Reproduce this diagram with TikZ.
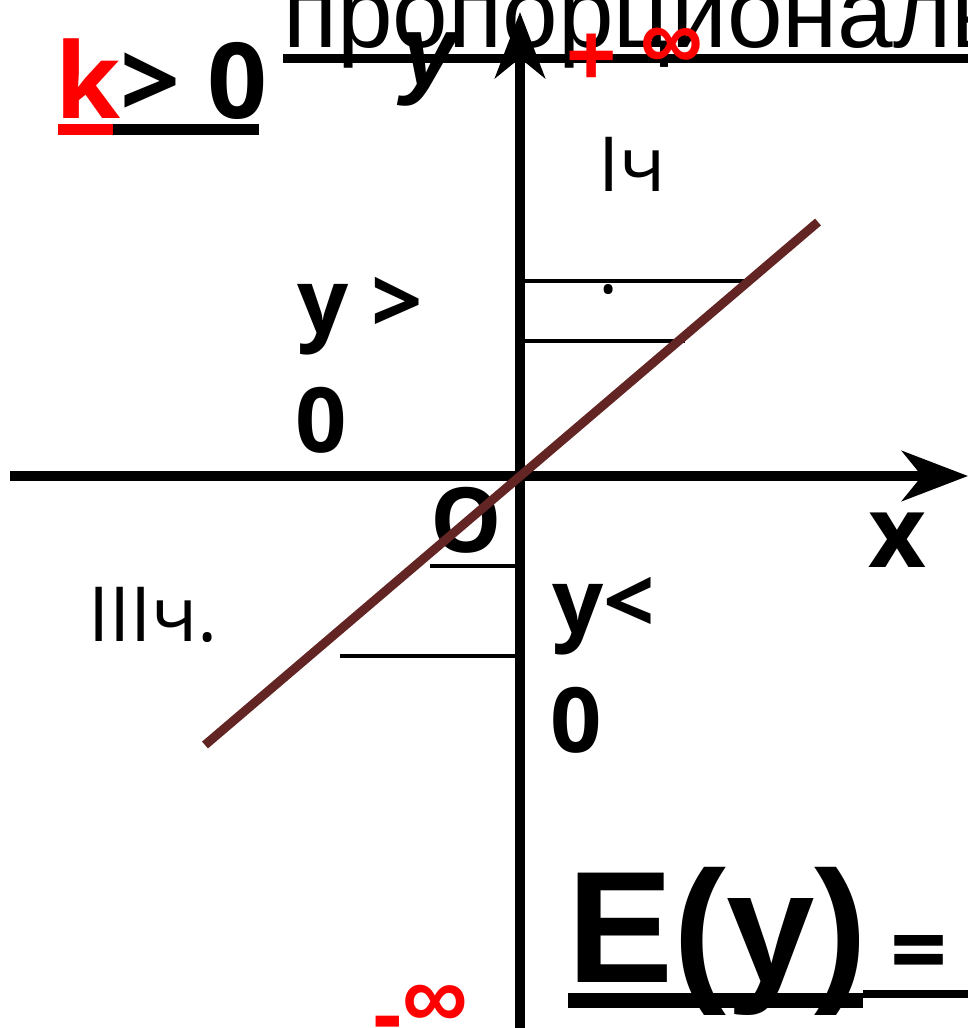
\documentclass[tikz,border=0pt]{standalone}
\usepackage{fontspec}
\setmainfont{Liberation Sans}
\newfontfamily\osans{Open Sans}
\usetikzlibrary{arrows.meta}
\definecolor{brownline}{RGB}{99,37,35}
\definecolor{redtxt}{RGB}{255,0,0}
\tikzset{
  lbl/.style={anchor=base west, inner sep=0pt, outer sep=0pt},
  boldlbl/.style={lbl, font=\osans\bfseries\fontsize{90}{90}\selectfont},
  quadlbl/.style={lbl, font=\osans\fontsize{76}{76}\selectfont},
  axisline/.style={line width=10pt, -{Stealth[length=66pt, width=50pt, inset=20pt]}},
  guide/.style={line width=4pt},
  graphline/.style={line width=9pt, brownline},
  uline/.style={fill=black}
}
\begin{document}
\begin{tikzpicture}[x=1pt,y=-1pt]
\path[use as bounding box, fill=white] (0,0) rectangle (968,1028);
\clip (0,0) rectangle (968,1028);

% title (cut off)
\node[lbl, font=\fontsize{100}{100}\selectfont] (title) at (283,47) {пропорциональность};
\fill[uline] (283,54) rectangle (968,63);

% k > 0
\node[lbl, font=\osans\bfseries\fontsize{105}{105}\selectfont] (kcond) at (55,118) {\textcolor{redtxt}{k}> 0};
\fill[redtxt] (58,124) rectangle (113,135);
\fill[uline] (113,124) rectangle (259,135);

% guide lines
\draw[guide] (520,281) -- (745,281);
\draw[guide] (520,341) -- (685,341);
\draw[guide] (430,566) -- (520,566);
\draw[guide] (340,656) -- (520,656);

% axes
\coordinate (xstart) at (10,476);
\coordinate (xend) at (968,476);
\coordinate (ystart) at (520,1040);
\coordinate (yend) at (520,12);
\draw[axisline] (xstart) -- (xend);
\draw[axisline] (ystart) -- (yend);

% axis labels
\node[lbl, font=\bfseries\itshape\fontsize{100}{100}\selectfont] (ylab) at (401,85) {y};
\node[lbl, font=\bfseries\fontsize{86}{86}\selectfont, text=redtxt] (pinf) at (566,84) {+};
\node[lbl, font=\bfseries\fontsize{88}{88}\selectfont, text=redtxt] (pinfsym) at (640,69) {∞};

% quadrant labels
\node[quadlbl] (q1) at (598,191) {Iч};
\node[quadlbl] (q1dot) at (598,293) {.};
\node[boldlbl] (ypos1) at (297,333) {y >};
\node[boldlbl] (ypos2) at (295,452) {0};
\node[boldlbl] (origin) at (430,552) {O};
\node[boldlbl, font=\osans\bfseries\fontsize{100}{100}\selectfont] (xlab) at (868,567) {x};
\node[quadlbl] (q3) at (88,641) {IIIч.};
\node[boldlbl] (yneg1) at (552,633) {y<};
\node[boldlbl] (yneg2) at (550,752) {0};

% E(y) =
\node[lbl, font=\bfseries\fontsize{159}{159}\selectfont] (ey) at (567,982) {E(y)};
\node[lbl, font=\osans\bfseries\fontsize{100}{100}\selectfont] (eq) at (890,985) {=};
\fill[uline] (568,993) rectangle (863,1008);
\fill[uline] (863,990) rectangle (968,998);

% - infinity
\node[lbl, font=\bfseries\fontsize{92}{92}\selectfont, text=redtxt] (minf) at (372,1028) {\raisebox{-17pt}{-}∞};

% graph line
\coordinate (gA) at (205,745);
\coordinate (gB) at (818,222);
\draw[graphline] (gA) -- (gB);
\end{tikzpicture}
\end{document}
